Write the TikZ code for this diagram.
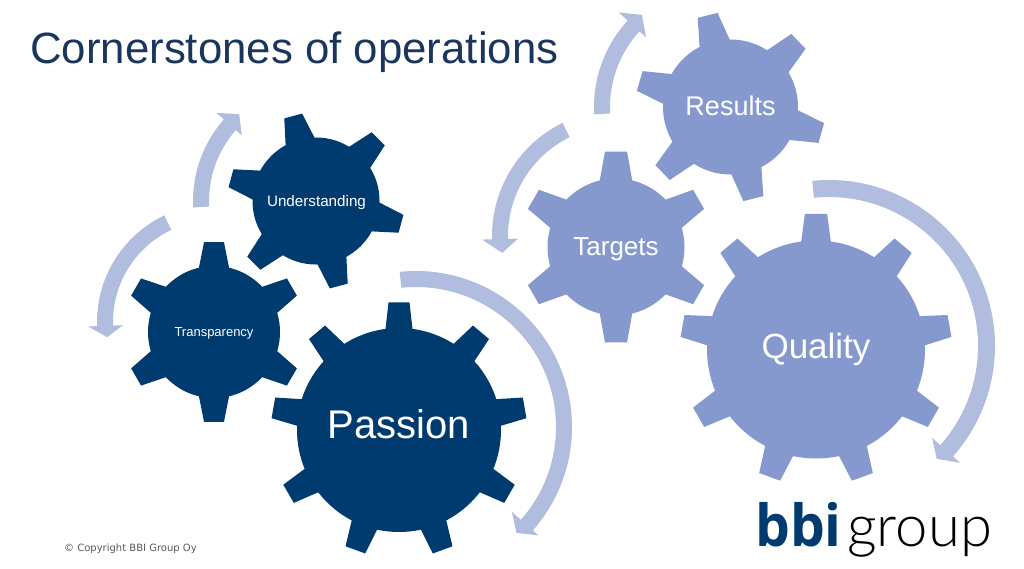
\documentclass[tikz,border=0pt]{standalone}
\usepackage{fontspec}
\setmainfont{Liberation Sans}
\newfontfamily\copyfont{DejaVu Sans}
\newfontfamily\logobold{Open Sans}[FakeStretch=0.95]
\newfontfamily\logothin{Lato Light}
\definecolor{navy}{HTML}{003B6F}
\definecolor{steel}{HTML}{8599CE}
\definecolor{pale}{HTML}{B0BDDF}
\definecolor{titleblue}{HTML}{1B365D}
\definecolor{footgray}{HTML}{595959}
\tikzset{
  gearbody/.style={circle, inner sep=0pt},
  gearlabel/.style={inner sep=0pt, text=white},
  turnarrow/.style={fill=pale}
}
% gear node, colour, teeth, first tooth, body radius, tip radius, root half angle, tip half angle
\newcommand{\gearteeth}[8]{
  \foreach \i in {1,...,#3}{
    \pgfmathsetmacro{\ang}{#4+(\i-1)*360/#3}
    \fill[#2, shift={(#1)}] (\ang-#7:#5-2) -- (\ang-#8:#6) -- (\ang+#8:#6) -- (\ang+#7:#5-2) -- cycle;
  }
}
% centre, outer radius, inner radius, start, end, tip angle, tip radius, inner barb, outer barb
\newcommand{\turnarrow}[9]{
  \fill[turnarrow, shift={(#1)}] (#4:#2) arc[start angle=#4, end angle=#5, radius=#2]
    -- (#5:#9) -- (#6:#7) -- (#5:#8) -- (#5:#3)
    arc[start angle=#5, end angle=#4, radius=#3] -- cycle;
}
\begin{document}
\begin{tikzpicture}[x=1pt, y=-1pt]
\useasboundingbox (0,0) rectangle (1024,568);

\node[inner sep=0pt, anchor=base west, text=titleblue, font=\fontsize{43.8}{50}\selectfont] (title) at (30,63) {Cornerstones of operations};

% dark gears
\node[gearbody, fill=navy, minimum size=127pt] (understanding) at (316,201) {};
\gearteeth{understanding}{navy}{6}{-105}{63.5}{88.5}{14.5}{6}
\node[gearlabel, font=\fontsize{15.2}{18}\selectfont] (understandingtext) at (316.5,202.5) {Understanding};

\node[gearbody, fill=navy, minimum size=132pt] (transparency) at (214,332) {};
\gearteeth{transparency}{navy}{6}{-90}{66}{90.5}{14}{6.3}
\node[gearlabel, font=\fontsize{13}{16}\selectfont] (transparencytext) at (214,333) {Transparency};

\node[gearbody, fill=navy, minimum size=204pt] (passion) at (399,430) {};
\gearteeth{passion}{navy}{9}{-90}{102}{128}{7.9}{4.7}
\node[gearlabel, font=\fontsize{40}{48}\selectfont] (passiontext) at (399,424) {Passion};

% light gears
\node[gearbody, fill=steel, minimum size=135pt] (results) at (730.5,107) {};
\gearteeth{results}{steel}{6}{-104}{67.5}{95}{14}{6.2}
\node[gearlabel, font=\fontsize{27}{32}\selectfont] (resultstext) at (730.5,106) {Results};

\node[gearbody, fill=steel, minimum size=137pt] (targets) at (616,247) {};
\gearteeth{targets}{steel}{6}{-90}{68.5}{96}{14.5}{6.6}
\node[gearlabel, font=\fontsize{26}{31}\selectfont] (targetstext) at (616,249) {Targets};

\node[gearbody, fill=steel, minimum size=218pt] (quality) at (816,349.5) {};
\gearteeth{quality}{steel}{9}{-90}{109}{136}{8.1}{4.7}
\node[gearlabel, font=\fontsize{35}{42}\selectfont] (qualitytext) at (816,349) {Quality};

% arrows round the gears
\coordinate (passionarc) at (416,427);
\coordinate (understandingarc) at (316,201);
\coordinate (transparencyarc) at (215,322);
\coordinate (qualityarc) at (829,346);
\coordinate (resultsarc) at (722,107);
\coordinate (targetsarc) at (618,236);
\turnarrow{passionarc}{156}{140}{-96}{41.5}{46.5}{146}{128}{163.5}
\turnarrow{understandingarc}{123}{107}{177}{221.5}{228.5}{116}{99}{133}
\turnarrow{transparencyarc}{118}{102}{244.6}{178}{172}{109}{92}{127}
\turnarrow{qualityarc}{166}{149}{-95.8}{41.7}{46.3}{156}{138}{175.6}
\turnarrow{resultsarc}{128}{112}{176.7}{222.5}{229}{122}{103}{140}
\turnarrow{targetsarc}{126}{110}{243.9}{178.5}{171.7}{117}{100}{136}

% logo and footer
\node[inner sep=0pt, anchor=base west, text=navy, font=\logobold\bfseries\fontsize{58}{60}\selectfont] (logobbi) at (755,546) {bbi};
\node[inner sep=0pt, anchor=base west, font=\logothin\fontsize{58}{60}\selectfont] (logogroup) at (847,546) {group};
\node[inner sep=0pt, anchor=base west, text=footgray, font=\copyfont\fontsize{10}{12}\selectfont] (copyright) at (64,551) {© Copyright BBI Group Oy};
\end{tikzpicture}
\end{document}
